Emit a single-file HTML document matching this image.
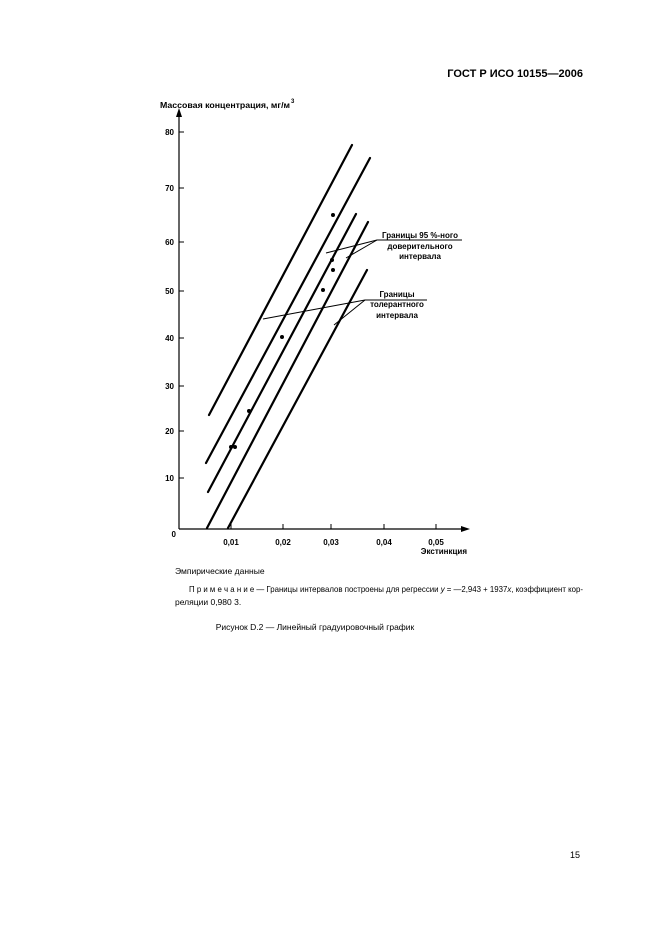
<!DOCTYPE html>
<html><head><meta charset="utf-8"><style>
body{margin:0;background:#fff;}
svg{display:block;font-family:"Liberation Sans",Arial,sans-serif;}
</style></head><body>
<svg width="661" height="936" viewBox="0 0 661 936" xmlns="http://www.w3.org/2000/svg">
<text x="583" y="77" font-size="11" font-weight="bold" text-anchor="end">ГОСТ Р ИСО 10155—2006</text>
<text x="160" y="108" font-size="8" font-weight="bold" textLength="130" lengthAdjust="spacingAndGlyphs">Массовая концентрация, мг/м</text>
<text x="291" y="103" font-size="6" font-weight="bold">3</text>
<g stroke="#000" stroke-width="1.2" fill="none">
<line x1="179" y1="529" x2="179" y2="113"/>
<line x1="179" y1="529" x2="465" y2="529"/>
</g>
<polygon points="179,108 176,117 182,117" fill="#000"/>
<polygon points="470,529 461,526 461,532" fill="#000"/>
<g stroke="#000" stroke-width="1">
<line x1="179" y1="132" x2="184" y2="132"/><line x1="179" y1="188" x2="184" y2="188"/>
<line x1="179" y1="242" x2="184" y2="242"/><line x1="179" y1="291" x2="184" y2="291"/>
<line x1="179" y1="338" x2="184" y2="338"/><line x1="179" y1="386" x2="184" y2="386"/>
<line x1="179" y1="431" x2="184" y2="431"/><line x1="179" y1="478" x2="184" y2="478"/>
<line x1="231" y1="529" x2="231" y2="524"/><line x1="283" y1="529" x2="283" y2="524"/>
<line x1="331" y1="529" x2="331" y2="524"/><line x1="384" y1="529" x2="384" y2="524"/>
<line x1="436" y1="529" x2="436" y2="524"/>
</g>
<g font-size="8" font-weight="bold" text-anchor="end">
<text x="174" y="135">80</text><text x="174" y="191">70</text><text x="174" y="245">60</text>
<text x="174" y="294">50</text><text x="174" y="341">40</text><text x="174" y="389">30</text>
<text x="174" y="434">20</text><text x="174" y="481">10</text><text x="176" y="537">0</text>
</g>
<g font-size="8" font-weight="bold" text-anchor="middle">
<text x="231" y="545">0,01</text><text x="283" y="545">0,02</text><text x="331" y="545">0,03</text>
<text x="384" y="545">0,04</text><text x="436" y="545">0,05</text>
</g>
<text x="467" y="554" font-size="8" font-weight="bold" text-anchor="end">Экстинкция</text>
<g stroke="#000" stroke-width="2.2" stroke-linecap="round">
<line x1="209" y1="415" x2="352" y2="145"/>
<line x1="206" y1="463" x2="370" y2="158"/>
<line x1="208" y1="492" x2="356" y2="214"/>
<line x1="207" y1="528" x2="368" y2="222"/>
<line x1="228" y1="528" x2="367" y2="270"/>
</g>
<g stroke="#000" stroke-width="1">
<line x1="377" y1="240" x2="462" y2="240"/>
<line x1="377" y1="240" x2="326" y2="253"/><line x1="377" y1="240" x2="346" y2="258"/>
<line x1="365" y1="300" x2="427" y2="300"/>
<line x1="365" y1="300" x2="263" y2="319"/><line x1="365" y1="300" x2="334" y2="325"/>
</g>
<g fill="#000">
<circle cx="333" cy="215" r="2"/><circle cx="332" cy="260" r="2"/><circle cx="333" cy="270" r="2"/>
<circle cx="323" cy="290" r="2"/><circle cx="282" cy="337" r="2"/><circle cx="249" cy="411" r="2"/>
<circle cx="231" cy="447" r="2"/><circle cx="235" cy="447" r="2"/>
</g>
<g font-size="8" font-weight="bold" text-anchor="middle">
<text x="420" y="238">Границы 95 %-ного</text>
<text x="420" y="249">доверительного</text>
<text x="420" y="259">интервала</text>
<text x="397" y="297">Границы</text>
<text x="397" y="307">толерантного</text>
<text x="397" y="318">интервала</text>
</g>
<g font-size="8.5">
<text x="175" y="574">Эмпирические данные</text>
<text x="189" y="592" textLength="394" lengthAdjust="spacingAndGlyphs">П р и м е ч а н и е — Границы интервалов построены для регрессии <tspan font-style="italic">y</tspan> = —2,943 + 1937<tspan font-style="italic">x</tspan>, коэффициент кор-</text>
<text x="175" y="605">реляции 0,980 3.</text>
<text x="315" y="630" text-anchor="middle">Рисунок D.2 — Линейный градуировочный график</text>
</g>
<text x="580" y="858" font-size="9" text-anchor="end">15</text>
</svg>
</body></html>
